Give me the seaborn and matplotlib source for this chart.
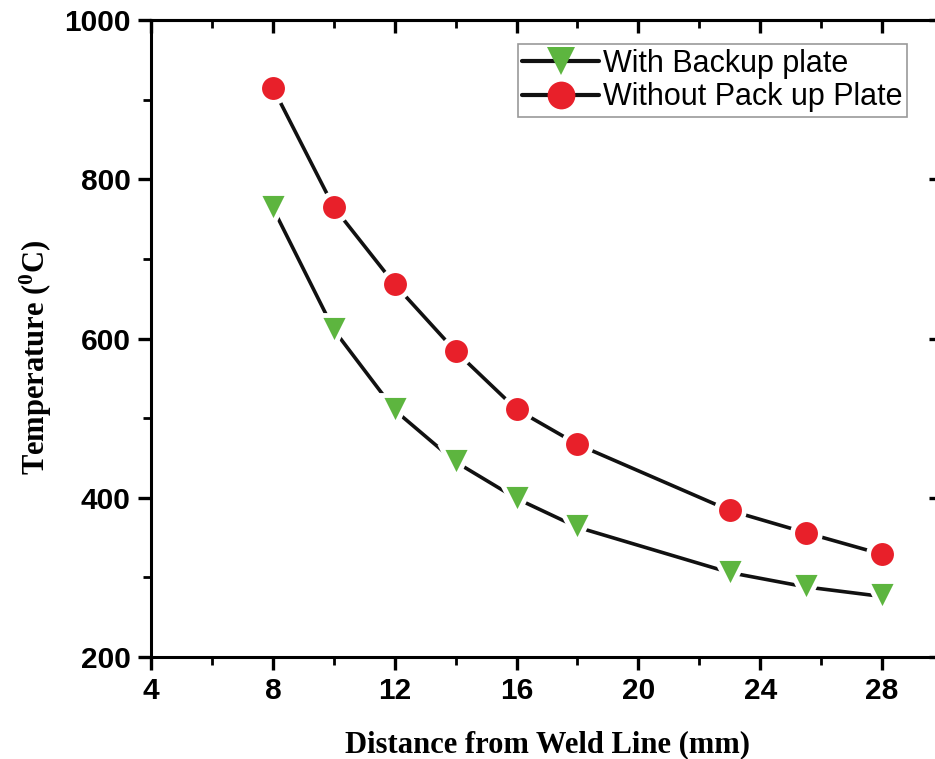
"""
plot.py
Temperature vs distance from weld line, with and without backup plate.
"""

import pandas as pd
import matplotlib.pyplot as plt
import seaborn as sns

# Data
distance = [8, 10, 12, 14, 16, 18, 23, 25.5, 28]
temp_backup = [764, 611, 510, 445, 399, 363, 306, 288, 276]
temp_no_backup = [915, 765, 668, 584, 511, 467, 384, 356, 329]

x_ticks = [4, 8, 12, 16, 20, 24, 28]
y_ticks = [200, 400, 600, 800, 1000]

sns.set_style("ticks")
plt.rcParams["font.family"] = ["Liberation Sans", "DejaVu Sans"]
plt.rcParams["mathtext.fontset"] = "custom"
plt.rcParams["mathtext.rm"] = "Liberation Serif:bold"
plt.rcParams["mathtext.it"] = "Liberation Serif:bold"
plt.rcParams["mathtext.bf"] = "Liberation Serif:bold"
for key in ["text.color", "axes.labelcolor", "xtick.color", "ytick.color", "axes.edgecolor"]:
    plt.rcParams[key] = "black"

df = pd.DataFrame({
    "distance": distance,
    "backup": temp_backup,
    "no_backup": temp_no_backup,
})

fig = plt.figure(figsize=(9.35, 7.59), dpi=100)
# right edge of the axes sits just past the figure edge, like the cropped original
ax = fig.add_axes([0.1615, 0.1344, 0.8471, 0.8392])

sns.lineplot(data=df, x="distance", y="backup", ax=ax, color="#111111", linewidth=2.6,
             marker="v", markersize=21, markerfacecolor="#5db53f",
             markeredgecolor="white", markeredgewidth=3.5, label="With Backup plate")
sns.lineplot(data=df, x="distance", y="no_backup", ax=ax, color="#111111", linewidth=2.6,
             marker="o", markersize=20, markerfacecolor="#e8202a",
             markeredgecolor="white", markeredgewidth=3.5, label="Without Pack up Plate")

ax.set_xlim(4, 30)
ax.set_ylim(200, 1000)
ax.set_xticks(x_ticks)
ax.set_yticks(y_ticks)
ax.set_xticks([t + 2 for t in x_ticks[:-1]] + [30], minor=True)
ax.set_yticks([t + 100 for t in y_ticks[:-1]], minor=True)

for side in ["left", "bottom", "top", "right"]:
    ax.spines[side].set_visible(True)
    ax.spines[side].set_linewidth(2.2)

ax.tick_params(which="major", direction="out", length=9.5, width=2.4, labelsize=21.5, pad=5)
ax.tick_params(which="minor", direction="out", length=5.5, width=2)
for lab in ax.get_xticklabels() + ax.get_yticklabels():
    lab.set_fontweight("bold")

# mirrored axes on top and right with inward ticks
top = ax.secondary_xaxis("top")
top.set_xticks(x_ticks)
top.set_xticks([t + 2 for t in x_ticks[:-1]], minor=True)
top.tick_params(which="major", direction="in", length=9.5, width=2.4, labeltop=False)
top.tick_params(which="minor", direction="in", length=5.5, width=2)
top.spines["top"].set_linewidth(2.2)

right = ax.secondary_yaxis("right")
right.set_yticks(y_ticks)
right.set_yticks([t + 100 for t in y_ticks[:-1]], minor=True)
right.tick_params(which="major", direction="in", length=10, width=2.4, labelright=False)
right.tick_params(which="minor", direction="in", length=6, width=2)

ax.set_xlabel("Distance from Weld Line (mm)", family="Liberation Serif",
              fontweight="bold", fontsize=22, labelpad=18)
ax.set_ylabel("Temperature ($^{0}$C)", family="Liberation Serif",
              fontweight="bold", fontsize=22)
ax.yaxis.set_label_coords(-0.123, 0.47)

leg = ax.legend(loc="upper right", bbox_to_anchor=(0.954, 0.962), fontsize=22,
                frameon=True, fancybox=False, edgecolor="#999999", framealpha=1,
                handlelength=2.5, handletextpad=0.12, borderpad=0.15,
                labelspacing=0.12, borderaxespad=0)
leg.get_frame().set_linewidth(1.2)
for line in leg.get_lines():
    line.set_markersize(20)
    line.set_markeredgewidth(0)
    line.set_linewidth(3)

fig.savefig("out.png", dpi=100)
